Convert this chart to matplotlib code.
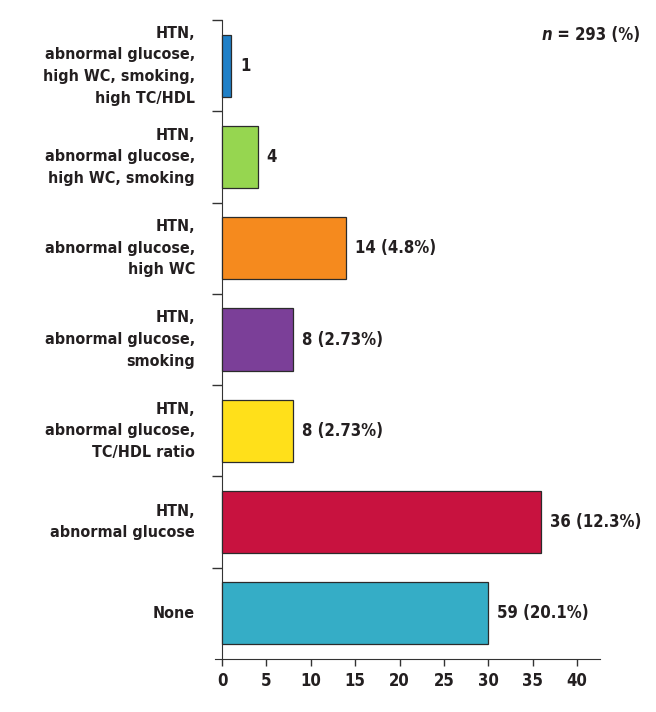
import matplotlib.pyplot as plt
import matplotlib.transforms as mtransforms
import numpy as np

# data (top to bottom as in the chart)
categories = [
    "HTN,\nabnormal glucose,\nhigh WC, smoking,\nhigh TC/HDL",
    "HTN,\nabnormal glucose,\nhigh WC, smoking",
    "HTN,\nabnormal glucose,\nhigh WC",
    "HTN,\nabnormal glucose,\nsmoking",
    "HTN,\nabnormal glucose,\nTC/HDL ratio",
    "HTN,\nabnormal glucose",
    "None",
]
bar_values = [1, 4, 14, 8, 8, 36, 30]
bar_labels = ["1", "4", "14 (4.8%)", "8 (2.73%)", "8 (2.73%)", "36 (12.3%)", "59 (20.1%)"]
colors = ["#1f80c8", "#96d650", "#f58a1e", "#7b3f98", "#ffe01a", "#c8123f", "#35adc6"]
xticks = [0, 5, 10, 15, 20, 25, 30, 35, 40]

plt.rcParams['font.family'] = ['DejaVu Sans']
plt.rcParams['font.stretch'] = 'condensed'
plt.rcParams['font.weight'] = 'bold'
txt = "#231f20"
fsz = 12

fig = plt.figure(figsize=(6.56, 7.12), dpi=100)
# left spine sits at x=0, axis line starts a little to the left of it
ax = fig.add_axes([215 / 656, 0.0744, (600 - 215) / 656, 0.9719 - 0.0744])

n = len(categories)
ypos = np.arange(n)[::-1]
ax.barh(ypos, bar_values, height=0.68, color=colors, edgecolor="#2b2b2b", linewidth=0.9, zorder=3)

for y, v, lab in zip(ypos, bar_values, bar_labels):
    ax.text(v + 1.0, y, lab, va="center", ha="left", fontsize=fsz, fontweight="bold",
            fontstretch="condensed", color=txt)

ax.set_ylim(-0.5, n - 0.5)
ax.set_xlim(-0.8, 42.6)

# category labels drawn as text so the line spacing can be controlled
ax.set_yticks([])
ax.set_yticks(np.arange(n) + 0.5, minor=True)
ax.tick_params(axis="y", which="minor", length=7, width=1, color="#333333", direction="out")
trans = mtransforms.blended_transform_factory(ax.transAxes, ax.transData)
for y, cat in zip(ypos, categories):
    ax.text(-0.052, y, cat, transform=trans, ha="right", va="center", multialignment="right",
            fontsize=11.5, fontweight="bold", fontstretch="condensed", color=txt,
            linespacing=1.55)

ax.tick_params(axis="x", length=5, width=1, color="#333333", direction="out", pad=4,
               labelsize=fsz, labelcolor=txt)
ax.set_xticks(xticks)
ax.set_xticklabels([str(t) for t in xticks])

for s in ["top", "right"]:
    ax.spines[s].set_visible(False)
ax.spines["left"].set_position(("data", 0))
ax.spines["left"].set_color("#333333")
ax.spines["bottom"].set_color("#333333")

# "n = 293 (%)" with italic n
t = fig.text(0.976, 0.951, " = 293 (%)", ha="right", va="center", fontsize=fsz,
             fontweight="bold", fontstretch="condensed", color=txt)
ax.annotate("n", xy=(0, 0.5), xycoords=t, ha="right", va="center", fontsize=fsz,
            fontweight="bold", fontstretch="condensed", fontstyle="italic", color=txt,
            annotation_clip=False)

fig.savefig("out.png", dpi=100)
